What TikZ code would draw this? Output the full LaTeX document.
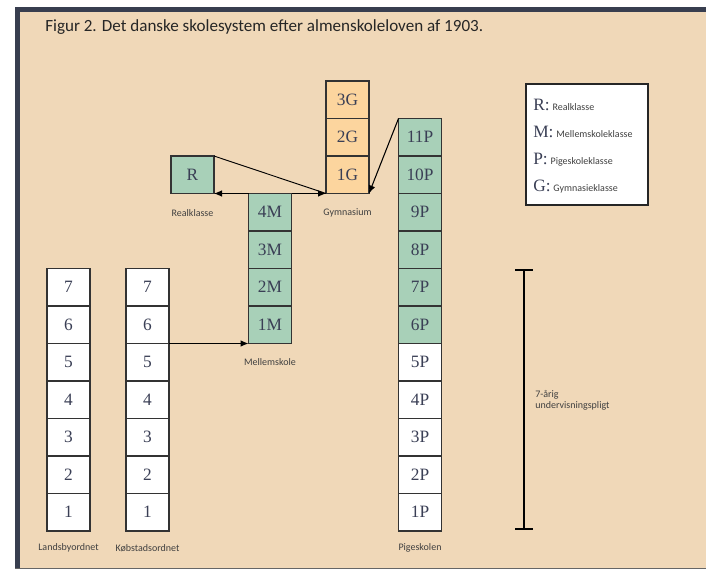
\documentclass[tikz,border=0pt]{standalone}
\usepackage{fontspec}
\setmainfont{Liberation Serif}
\newfontfamily\lab{Carlito}
\usetikzlibrary{arrows.meta}
\definecolor{bgtan}{HTML}{F0D8B8}
\definecolor{frame}{HTML}{383E4F}
\definecolor{cgreen}{HTML}{A8D0B8}
\definecolor{corange}{HTML}{FCD59E}
\definecolor{celltext}{HTML}{3A3F55}
\begin{document}
\begin{tikzpicture}[x=0.75pt,y=-0.75pt,
  cell/.style={draw=black!80, line width=1pt, fill=white, minimum width=32.25pt, minimum height=28.125pt, inner sep=0pt, outer sep=0pt, font=\fontsize{13}{13}\selectfont, text=celltext},
  gcell/.style={cell, fill=cgreen},
  ocell/.style={cell, fill=corange},
  smalllab/.style={font=\lab\fontsize{7.5}{8}\selectfont, text=black!75, inner sep=0pt},
  arr/.style={line width=0.8pt, -{Latex[length=6pt,width=5pt]}},
  legl/.style={anchor=base west, inner sep=0pt, font=\fontsize{13}{13}\selectfont, text=celltext}
]
\useasboundingbox (0,0) rectangle (706,570);
\fill[white] (0,0) rectangle (706,570);
\fill[bgtan] (15,7) rectangle (706,568);
\fill[frame] (15,7) rectangle (706,12);
\fill[frame] (15,7) rectangle (20,568);
\draw[black!60, line width=0.6pt] (15,568) -- (706,568);

\node[anchor=base west, inner sep=0pt, font=\lab\fontsize{12.8}{13}\selectfont, text=black!85] (title) at (45,32) {Figur 2. Det danske skolesystem efter almenskoleloven af 1903.};

% columns
\foreach \i in {1,...,7} {
  \node[cell] (L\i) at (68.5,{531-37.5*(\i-0.5)}) {\i};
  \node[cell] (K\i) at (147.5,{531-37.5*(\i-0.5)}) {\i};
}
\foreach \i in {1,...,5} {
  \node[cell] (P\i) at (420,{531-37.5*(\i-0.5)}) {\i P};
}
\foreach \i in {6,...,11} {
  \node[gcell] (P\i) at (420,{531-37.5*(\i-0.5)}) {\i P};
}
\foreach \j in {1,...,4} {
  \node[gcell] (M\j) at (270,{531-37.5*(\j+5-0.5)}) {\j M};
}
\foreach \j in {1,...,3} {
  \node[ocell] (G\j) at (347.5,{531-37.5*(\j+9-0.5)}) {\j G};
}
\node[gcell] (R) at (192.5,{531-37.5*9.5}) {R};

% labels
\node[smalllab] (lR) at (192.5,213) {Realklasse};
\node[smalllab] (lG) at (347.5,213) {Gymnasium};
\node[smalllab] (lM) at (270,362) {Mellemskole};
\node[smalllab] (lL) at (68.5,548) {Landsbyordnet};
\node[smalllab] (lK) at (147.5,548) {Købstadsordnet};
\node[smalllab] (lP) at (420,548) {Pigeskolen};

% connectors
\draw[arr] (K5.north east) -- (M1.south west);
\draw[arr] (M4.north west) -- (R.south east);
\draw[arr] (M4.north east) -- (G1.south west);
\draw[line width=0.7pt] (R.north east) -- (G1.south west);
\draw[arr] (P11.north west) -- (G1.south east);

% bracket
\coordinate (bt) at (524,270);
\coordinate (bb) at (524,529);
\draw[line width=0.9pt] (bt) -- (bb);
\draw[line width=0.9pt] (515,270) -- (533,270);
\draw[line width=0.9pt] (515,529) -- (533,529);
\node[smalllab, anchor=west, align=left] (pligt) at (535,400) {7-årig\\undervisningspligt};

% legend
\node[draw=black!85, line width=1pt, fill=white, minimum width=91.5pt, minimum height=90.75pt, inner sep=0pt] (leg) at (587,144.5) {};
\node[legl] (lr) at (533,111) {R:\,{\lab\fontsize{7.5}{8}\selectfont\color{black!75} Realklasse}};
\node[legl] (lm) at (533,138) {M:\,{\lab\fontsize{7.5}{8}\selectfont\color{black!75} Mellemskoleklasse}};
\node[legl] (lp) at (533,165) {P:\,{\lab\fontsize{7.5}{8}\selectfont\color{black!75} Pigeskoleklasse}};
\node[legl] (lg) at (533,192) {G:\,{\lab\fontsize{7.5}{8}\selectfont\color{black!75} Gymnasieklasse}};
\end{tikzpicture}
\end{document}
